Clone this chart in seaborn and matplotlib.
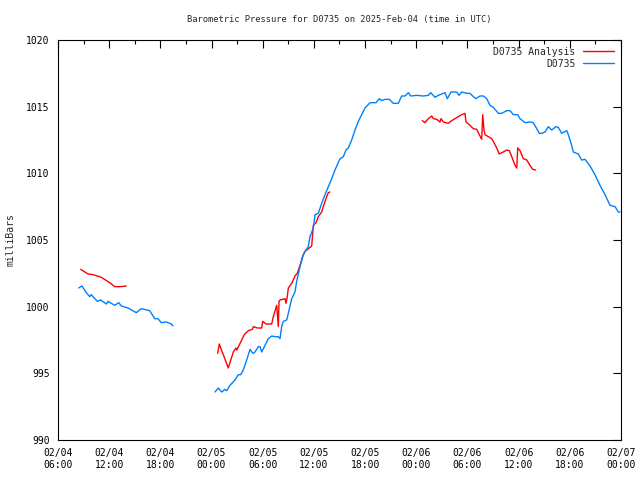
import matplotlib
matplotlib.use("Agg")
import matplotlib.pyplot as plt
import matplotlib.dates as mdates
import seaborn as sns
import pandas as pd

# Hours since 2025-02-04 00:00 UTC
obs_hours = [
    [8.43, 8.81, 9.32, 9.72, 9.90, 10.61, 11.01, 11.66, 11.86, 12.65, 13.12,
     13.42, 14.21, 15.18, 15.77, 16.75, 17.34, 17.72, 18.11, 18.70, 19.28, 19.48],
    [24.41, 24.79, 25.19, 25.58, 25.78, 26.16, 26.75, 27.14, 27.42, 27.72,
     28.12, 28.51, 28.71, 28.90, 29.09, 29.48, 29.68, 29.88, 30.27, 30.65,
     31.05, 31.44, 31.83, 32.03, 32.22, 32.41, 32.81, 33.00, 33.40, 33.78,
     33.98, 34.37, 34.76, 35.07, 35.34, 35.54, 35.93, 36.13, 36.52, 36.91,
     37.30, 37.69, 38.09, 38.47, 39.06, 39.45, 39.76, 40.03, 40.43, 40.82,
     41.21, 41.60, 41.99, 42.58, 43.28, 43.67, 43.95, 44.34, 44.84, 45.31,
     45.89, 46.29, 46.68, 47.07, 47.35, 48.05, 48.83, 49.41, 49.69, 50.20,
     50.58, 50.98, 51.37, 51.64, 52.07, 52.74, 53.01, 53.33, 53.91, 54.30,
     54.69, 55.00, 55.47, 55.86, 56.26, 56.64, 57.03, 57.62, 58.02, 58.60,
     58.99, 59.38, 59.89, 60.16, 60.75, 61.33, 61.72, 62.12, 62.42, 62.71,
     63.09, 63.48, 63.88, 64.38, 64.65, 65.05, 65.64, 65.82, 66.22, 66.41,
     67.00, 67.39, 67.78, 68.37, 68.95, 69.54, 70.13, 70.71, 71.30, 71.69,
     71.89],
]
obs_mb = [
    [1001.4, 1001.55, 1001.05, 1000.75, 1000.9, 1000.4, 1000.5, 1000.2,
     1000.4, 1000.1, 1000.3, 1000.05, 999.9, 999.55, 999.85, 999.7, 999.1,
     999.1, 998.8, 998.85, 998.7, 998.55],
    [993.6, 993.9, 993.6, 993.8, 993.7, 994.1, 994.5, 994.9, 994.9, 995.25,
     996.0, 996.8, 996.6, 996.5, 996.6, 997.0, 997.0, 996.6, 997.1, 997.6,
     997.8, 997.75, 997.75, 997.6, 998.5, 998.9, 999.0, 999.5, 1000.6, 1001.1,
     1001.9, 1003.0, 1003.9, 1004.25, 1004.5, 1005.25, 1005.9, 1006.9, 1007.0, 1007.75,
     1008.4, 1009.0, 1009.6, 1010.25, 1011.1, 1011.25, 1011.75, 1011.9, 1012.5, 1013.25,
     1013.9, 1014.4, 1014.9, 1015.3, 1015.3, 1015.6, 1015.45, 1015.55, 1015.55, 1015.25,
     1015.25, 1015.8, 1015.8, 1016.05, 1015.8, 1015.85, 1015.8, 1015.85, 1016.05, 1015.7,
     1015.85, 1015.95, 1016.05, 1015.6, 1016.1, 1016.1, 1015.85, 1016.1, 1016.0, 1016.0,
     1015.75, 1015.6, 1015.8, 1015.8, 1015.6, 1015.1, 1014.95, 1014.5, 1014.5, 1014.7,
     1014.7, 1014.4, 1014.4, 1014.1, 1013.8, 1013.85, 1013.8, 1013.35, 1013.0, 1013.0,
     1013.1, 1013.5, 1013.25, 1013.5, 1013.45, 1013.0, 1013.2, 1012.9, 1012.1, 1011.6,
     1011.45, 1011.0, 1011.05, 1010.55, 1009.9, 1009.1, 1008.4, 1007.6, 1007.5, 1007.1,
     1007.1],
]

ana_hours = [
    [8.66, 9.52, 10.10, 11.08, 12.06, 12.65, 13.23, 14.01],
    [24.72, 24.91, 25.07, 25.38, 25.96, 26.55, 26.87, 26.95, 27.34, 27.84,
     28.31, 28.78, 28.90, 29.36, 29.88, 30.00, 30.38, 31.05, 31.24, 31.64,
     31.83, 31.91, 32.03, 32.61, 32.73, 32.88, 33.00, 33.40, 33.78, 34.05,
     34.37, 34.69, 34.96, 35.16, 35.74, 35.93, 36.25, 36.52, 36.91, 37.10,
     37.50, 37.69, 37.89],
    [48.71, 49.02, 49.41, 49.81, 50.00, 50.40, 50.78, 50.90, 51.17, 51.76,
     52.15, 52.54, 52.93, 53.33, 53.71, 53.83, 54.30, 54.69, 55.09, 55.39,
     55.67, 55.79, 55.94, 56.06, 56.45, 56.84, 57.03, 57.43, 57.73, 58.20,
     58.60, 58.91, 59.19, 59.58, 59.78, 59.89, 60.16, 60.55, 60.95, 61.33,
     61.65, 62.00],
]
ana_mb = [
    [1002.8, 1002.45, 1002.4, 1002.2, 1001.8, 1001.5, 1001.5, 1001.55],
    [996.5, 997.2, 996.9, 996.4, 995.4, 996.6, 996.9, 996.75, 997.25, 997.9,
     998.2, 998.3, 998.5, 998.4, 998.4, 998.9, 998.7, 998.7, 999.25, 1000.1,
     998.5, 1000.4, 1000.5, 1000.6, 1000.25, 1000.75, 1001.4, 1001.75, 1002.3, 1002.5,
     1003.1, 1003.8, 1004.15, 1004.25, 1004.55, 1006.1, 1006.3, 1006.75, 1007.1, 1007.5,
     1008.25, 1008.55, 1008.6],
    [1013.95, 1013.8, 1014.1, 1014.3, 1014.1, 1014.05, 1013.85, 1014.1, 1013.85, 1013.75,
     1013.95, 1014.1, 1014.25, 1014.4, 1014.5, 1013.85, 1013.6, 1013.35, 1013.3, 1012.9,
     1012.55, 1014.4, 1013.25, 1012.9, 1012.75, 1012.6, 1012.4, 1011.9, 1011.45, 1011.6,
     1011.75, 1011.7, 1011.25, 1010.6, 1010.4, 1011.9, 1011.7, 1011.1, 1011.0, 1010.6,
     1010.3, 1010.25],
]

start = pd.Timestamp("2025-02-04 00:00")


def to_frame(hours, values):
    rows = []
    for seg, (hh, vv) in enumerate(zip(hours, values)):
        for h, v in zip(hh, vv):
            rows.append({"time": start + pd.Timedelta(hours=h), "mb": v, "seg": seg})
    return pd.DataFrame(rows)


obs_df = to_frame(obs_hours, obs_mb)
ana_df = to_frame(ana_hours, ana_mb)

sns.set_style("white")
plt.rcParams["font.family"] = ["DejaVu Sans Mono"]
plt.rcParams["font.size"] = 7

fig = plt.figure(figsize=(6.4, 4.8), dpi=100)
ax = fig.add_axes([58 / 640, 40 / 480, 563 / 640, 400 / 480])

sns.lineplot(data=ana_df, x="time", y="mb", units="seg", estimator=None,
             color="#ff0000", linewidth=1, ax=ax, label="D0735 Analysis")
sns.lineplot(data=obs_df, x="time", y="mb", units="seg", estimator=None,
             color="#0080ff", linewidth=1, ax=ax, label="D0735")

ax.set_xlim(start + pd.Timedelta(hours=6), start + pd.Timedelta(hours=72))
ax.set_ylim(990, 1020)
ax.set_yticks(range(990, 1021, 5))
ax.xaxis.set_major_locator(mdates.HourLocator(byhour=[0, 6, 12, 18]))
ax.xaxis.set_minor_locator(mdates.HourLocator(byhour=range(0, 24, 3)))
ax.xaxis.set_major_formatter(mdates.DateFormatter("%m/%d\n%H:%M"))
ax.tick_params(axis="both", which="both", direction="in", top=True, right=True,
               colors="black", labelsize=7, width=0.8)
ax.tick_params(which="major", length=6, pad=6)
ax.tick_params(which="minor", length=3)
for s in ax.spines.values():
    s.set_color("black")
    s.set_linewidth(0.8)

ax.set_xlabel("")
ax.set_ylabel("milliBars", fontsize=7, labelpad=8)
ax.set_title("Barometric Pressure for D0735 on 2025-Feb-04 (time in UTC)",
             fontsize=6.3, pad=13)

# one legend entry per series (units= makes one line per segment)
handles, labels = ax.get_legend_handles_labels()
seen = {}
for h, l in zip(handles, labels):
    seen.setdefault(l, h)
ax.legend(list(seen.values()), list(seen.keys()), loc="upper right", frameon=False,
          markerfirst=False, alignment="right", handlelength=3.2, fontsize=7,
          borderaxespad=0.3, labelspacing=0.2, handletextpad=0.8)

fig.savefig("out.png", dpi=100)
